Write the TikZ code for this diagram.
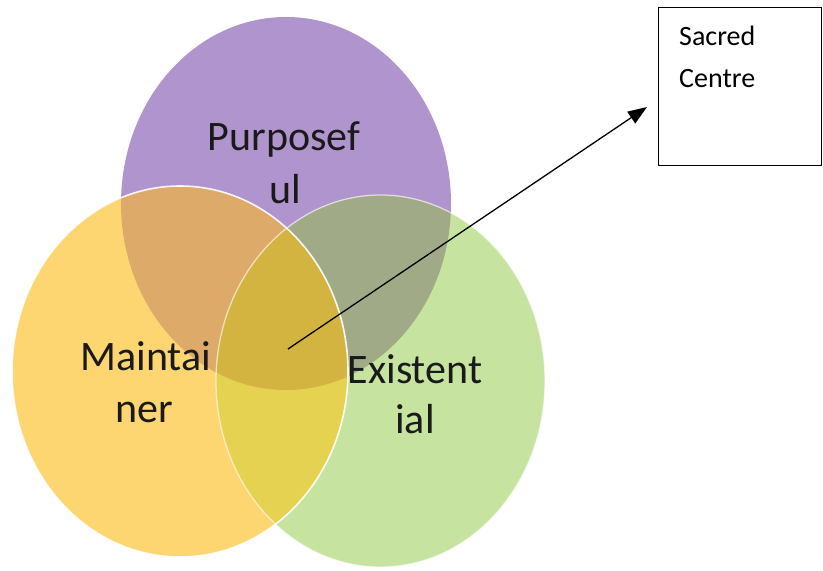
\documentclass[tikz,border=0pt]{standalone}
\usepackage{fontspec}
\setmainfont{Carlito}
\usetikzlibrary{arrows.meta}
\definecolor{cP}{HTML}{B094CD}
\definecolor{cY}{HTML}{FDD672}
\definecolor{cG}{HTML}{C6E4A0}
\definecolor{cPY}{HTML}{DEAA69}
\definecolor{cPG}{HTML}{A0AA87}
\definecolor{cYG}{HTML}{E4D250}
\definecolor{cPYG}{HTML}{D4B440}
\definecolor{txt}{HTML}{1A1A1A}
\tikzset{
  vlabel/.style={font=\fontsize{42}{50}\selectfont, text=txt, anchor=base, inner sep=0pt},
  boxlabel/.style={font=\fontsize{28}{34}\selectfont, text=black, anchor=base west, inner sep=0pt},
  sacredbox/.style={draw=black, line width=1.3pt, anchor=north west, minimum width=163pt, minimum height=158pt, inner sep=0pt},
  pointer/.style={draw=black, line width=1.3pt, -{Triangle[length=19pt,width=14pt]}}
}
\newcommand{\circP}{(286,203.5) ellipse [x radius=165pt, y radius=186.5pt]}
\newcommand{\circY}{(180,371.5) ellipse [x radius=168pt, y radius=185.5pt]}
\newcommand{\circG}{(380.5,381) ellipse [x radius=164.5pt, y radius=186pt]}
\begin{document}
\begin{tikzpicture}[x=1pt,y=-1pt]
\useasboundingbox (0,0) rectangle (823,571);
\fill[white] (0,0) rectangle (823,571);
% circles
\fill[cP] \circP;
\fill[cY] \circY;
\fill[cG] \circG;
\begin{scope}\clip \circP; \fill[cPY] \circY; \end{scope}
\begin{scope}\clip \circP; \fill[cPG] \circG; \end{scope}
\begin{scope}\clip \circY; \fill[cYG] \circG; \end{scope}
\begin{scope}\clip \circP; \clip \circY; \fill[cPYG] \circG; \end{scope}
\draw[white, line width=1.6pt, opacity=0.9] \circY;
\draw[white, line width=1.3pt, opacity=0.6] \circG;
% labels
\node[vlabel] (p1) at (284,150) {Purposef};
\node[vlabel] (p2) at (285,203) {ul};
\node[vlabel] (m1) at (146,370) {Maintai};
\node[vlabel] (m2) at (144,422) {ner};
\node[vlabel] (e1) at (415,383) {Existent};
\node[vlabel] (e2) at (415,433) {ial};
% box
\node[sacredbox] (box) at (658,7) {};
\node[boxlabel] (s1) at (679,45) {Sacred};
\node[boxlabel] (s2) at (679,87) {Centre};
% arrow
\coordinate (centre) at (288,349);
\coordinate (tip) at (647,107);
\draw[pointer] (centre) -- (tip);
\end{tikzpicture}
\end{document}
